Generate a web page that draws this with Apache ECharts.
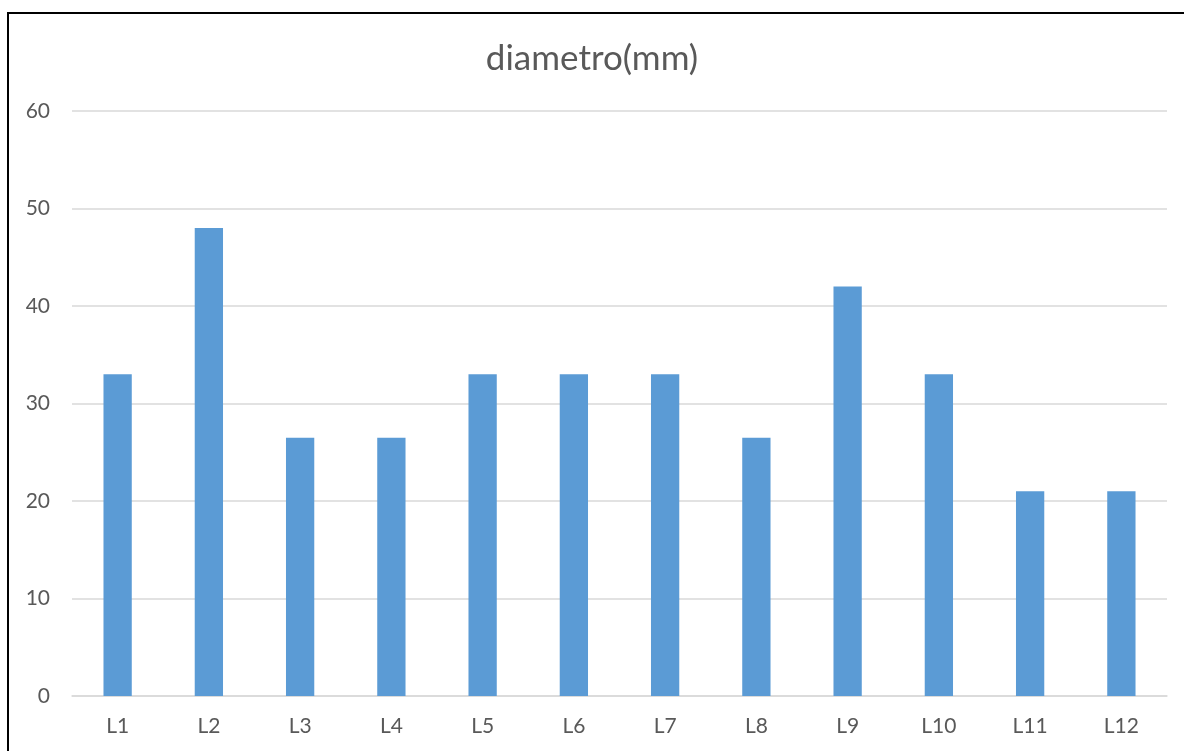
<!DOCTYPE html>
<html>
<head>
<meta charset="utf-8">
<script src="https://cdn.jsdelivr.net/npm/echarts@6/dist/echarts.min.js"></script>
<style>
html,body{margin:0;padding:0;background:#fff;}
#c{width:1184px;height:751px;}
</style>
</head>
<body>
<div id="c"></div>
<script>
const titleText = 'diametro(mm)';
const categories = ['L1','L2','L3','L4','L5','L6','L7','L8','L9','L10','L11','L12'];
const diametro = [33, 48, 26.5, 26.5, 33, 33, 33, 26.5, 42, 33, 21, 21];
const yTicks = {min: 0, max: 60, interval: 10};

const chart = echarts.init(document.getElementById('c'));
chart.setOption({
  animation: false,
  backgroundColor: '#fff',
  textStyle: {fontFamily: 'Lato'},
  title: {
    text: titleText,
    left: 'center',
    top: 36,
    textStyle: {fontFamily: 'Lato', fontSize: 35, fontWeight: 'normal', color: '#595959'}
  },
  graphic: [{
    type: 'rect',
    shape: {x: 8, y: 13, width: 1400, height: 1000},
    style: {fill: 'none', stroke: '#000', lineWidth: 2},
    silent: true
  }],
  grid: {left: 72, right: 17, top: 111, bottom: 55, containLabel: false},
  xAxis: {
    type: 'category',
    data: categories,
    axisLine: {show: true, lineStyle: {color: '#d9d9d9', width: 1.5}},
    axisTick: {show: false},
    axisLabel: {color: '#595959', fontSize: 21, margin: 20, fontFamily: 'Lato'}
  },
  yAxis: {
    type: 'value',
    min: yTicks.min, max: yTicks.max, interval: yTicks.interval,
    axisLine: {show: false},
    axisTick: {show: false},
    splitLine: {lineStyle: {color: '#d9d9d9', width: 1.5}},
    axisLabel: {color: '#595959', fontSize: 21, margin: 22, fontFamily: 'Lato'}
  },
  series: [{
    type: 'bar',
    data: diametro,
    barWidth: '31%',
    itemStyle: {color: '#5B9BD5'}
  }]
});
</script>
</body>
</html>
